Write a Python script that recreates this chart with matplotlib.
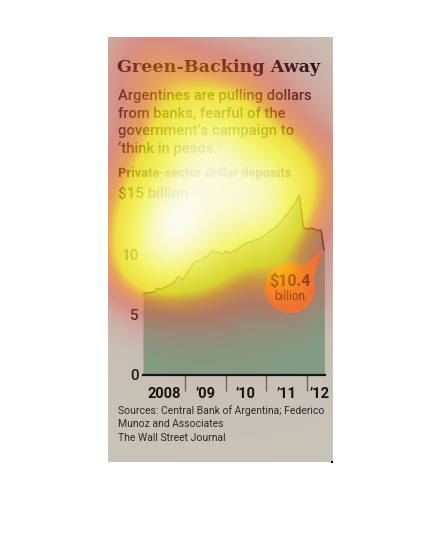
import numpy as np
import matplotlib
matplotlib.use("Agg")
import matplotlib.pyplot as plt
from matplotlib.colors import LinearSegmentedColormap
from matplotlib.patches import Rectangle, Circle, Polygon

# Private-sector dollar deposits, $ billion
dates = [2007.97, 2008.26, 2008.32, 2008.39, 2008.58, 2008.71, 2008.85, 2008.92,
         2008.95, 2009.12, 2009.25, 2009.37, 2009.57, 2009.66, 2009.81, 2009.90,
         2010.01, 2010.06, 2010.23, 2010.35, 2010.48, 2010.72, 2010.89, 2011.05,
         2011.21, 2011.38, 2011.54, 2011.70, 2011.81, 2011.87, 2011.91, 2011.99,
         2012.12, 2012.24, 2012.35, 2012.37, 2012.41, 2012.43]
deposits = [6.75, 6.9, 7.2, 7.1, 7.4, 7.6, 8.2, 7.9,
            7.9, 8.8, 9.4, 9.5, 9.9, 10.3, 10.2, 10.0,
            10.3, 10.1, 10.3, 10.6, 10.9, 11.2, 11.4, 11.8,
            12.2, 12.8, 13.5, 14.2, 14.9, 13.5, 12.3, 12.1,
            12.2, 12.0, 12.0, 11.6, 10.6, 10.4]

year_ticks = [2009, 2010, 2011, 2012]
year_label_pos = [2008.5, 2009.5, 2010.5, 2011.5, 2012.32]
year_labels = ["2008", "\u201909", "\u201910", "\u201911", "\u201912"]
y_ticks = [0, 5, 10]
y_labels = ["0", "5", "10"]

# attention heatmap fixations (pixel coords, weight, spread)
fix_x = [165, 195, 240, 270, 285, 225, 150, 200, 290, 150, 200, 220, 120, 320]
fix_y = [222, 150, 195, 225, 175, 120, 270, 265, 285, 62, 200, 185, 260, 180]
fix_w = [1.0, 0.6, 0.6, 0.5, 0.4, 0.45, 0.4, 0.45, 0.35, 0.3, 0.4, 0.28, 0.15, 0.15]
fix_s = [35, 40, 40, 30, 30, 45, 28, 35, 22, 35, 60, 110, 30, 35]

W, H = 442, 556
PANEL = "#c8c4b9"
SANS = ["Roboto", "DejaVu Sans"]

fig = plt.figure(figsize=(W / 100, H / 100), dpi=100)
fig.patch.set_facecolor("white")

# background layer in pixel coords
bg = fig.add_axes([0, 0, 1, 1], zorder=0)
bg.set_xlim(0, W)
bg.set_ylim(H, 0)
bg.axis("off")
bg.add_patch(Rectangle((108, 37), 225, 425, color=PANEL, lw=0))

# chart axes
x0, x1 = 2007.97, 2012.45
ymax = 15.5
left_px, base_px = 143, 375
ax_w = (x1 - x0) * 40.67
ax_h = ymax * 12.05
ax = fig.add_axes([left_px / W, (H - base_px) / H, ax_w / W, ax_h / H], zorder=1)
ax.set_facecolor("none")
ax.set_xlim(x0, x1)
ax.set_ylim(0, ymax)
ax.fill_between(dates, deposits, 0, color="#7f9e84", lw=0)
ax.plot(dates, deposits, color="#3a2a1a", lw=1.1)
ax.hlines(10, x0, x1, colors="#8a8478", linestyles=(0, (1, 2)), lw=0.9)
ax.hlines(15, 2008.85, x1, colors="#8a8478", linestyles=(0, (1, 2)), lw=0.9)
for s in ["top", "right", "left"]:
    ax.spines[s].set_visible(False)
ax.spines["bottom"].set_linewidth(1.6)
ax.spines["bottom"].set_color("#111111")
ax.set_yticks(y_ticks)
ax.set_yticklabels(y_labels, fontsize=11, family=SANS, weight=500,
                   color="#1a1a1a")
ax.tick_params(axis="y", length=0, pad=3)
ax.set_xticks(year_label_pos)
ax.set_xticklabels(year_labels, fontsize=10.5, family=SANS, weight="bold",
                   color="#111111")
ax.set_xticks(year_ticks, minor=True)
ax.tick_params(axis="x", which="major", length=0, pad=9)
ax.tick_params(axis="x", which="minor", length=11.5, width=1, color="#666666")

# top layer: texts, callout, heatmap
top = fig.add_axes([0, 0, 1, 1], zorder=2)
top.set_facecolor("none")
top.axis("off")

top.text(117, 67, "Green-Backing Away", fontsize=12.6, family="DejaVu Serif",
         weight="heavy", color="#0a0a0a", va="center", ha="left")
subtitle = ["Argentines are pulling dollars", "from banks, fearful of the",
            "government\u2019s campaign to", "\u2018think in pesos.\u2019"]
for i, line in enumerate(subtitle):
    top.text(118, 96 + i * 17.7, line, fontsize=10.6, family=SANS, weight=500,
             color="#1a1a1a", va="center", ha="left")
top.text(118, 173, "Private-sector dollar deposits", fontsize=9.4, family=SANS,
         weight="bold", color="#1a1a1a", va="center", ha="left")
top.text(118, 194, "$15 billion", fontsize=11, family=SANS, weight=500,
         color="#1a1a1a", va="center", ha="left")

top.add_patch(Polygon([[300, 270], [312, 282], [323, 248]], closed=True,
                      color="#f0902a", lw=0))
top.add_patch(Circle((290, 288), 25, color="#f0902a", lw=0))
top.text(290, 281, "$10.4", fontsize=11.5, family=SANS, weight="bold",
         color="#3a1408", ha="center", va="center")
top.text(290, 296, "billion", fontsize=8.5, family=SANS, color="#3a1408",
         ha="center", va="center")

sources = ["Sources: Central Bank of Argentina; Federico", "Munoz and Associates"]
for i, line in enumerate(sources):
    top.text(118, 411 + i * 13, line, fontsize=7.45, family=SANS,
             color="#2a2a2a", va="center", ha="left")
top.text(118, 438, "The Wall Street Journal", fontsize=7.45, family=SANS,
         color="#2a2a2a", va="center", ha="left")
top.add_patch(Rectangle((331, 461), 1.5, 1.5, color="black", lw=0))

# heatmap overlay
xs = np.arange(108, 333) + 0.5
ys = np.arange(37, 462) + 0.5
X, Y = np.meshgrid(xs, ys)
dens = np.zeros_like(X)
for fx, fy, fw, fs in zip(fix_x, fix_y, fix_w, fix_s):
    dens += fw * np.exp(-((X - fx) ** 2 + (Y - fy) ** 2) / (2 * fs ** 2))
dens = (dens / dens.max()) ** 0.75
heat = LinearSegmentedColormap.from_list("heat", [
    (0.0, (0.85, 0.35, 0.35, 0.0)),
    (0.08, (0.85, 0.35, 0.35, 0.05)),
    (0.16, (0.9, 0.33, 0.33, 0.22)),
    (0.28, (0.92, 0.3, 0.25, 0.45)),
    (0.42, (1.0, 0.55, 0.1, 0.6)),
    (0.52, (1.0, 0.93, 0.05, 0.7)),
    (0.74, (1.0, 1.0, 0.35, 0.82)),
    (0.9, (1.0, 1.0, 0.75, 0.9)),
    (1.0, (1.0, 1.0, 0.95, 0.95)),
])
top.imshow(dens, cmap=heat, extent=(108, 333, 462, 37), origin="upper",
           aspect="auto", interpolation="bilinear", zorder=10, vmin=0, vmax=1)
top.set_xlim(0, W)
top.set_ylim(H, 0)

fig.savefig("out.png", dpi=100)
